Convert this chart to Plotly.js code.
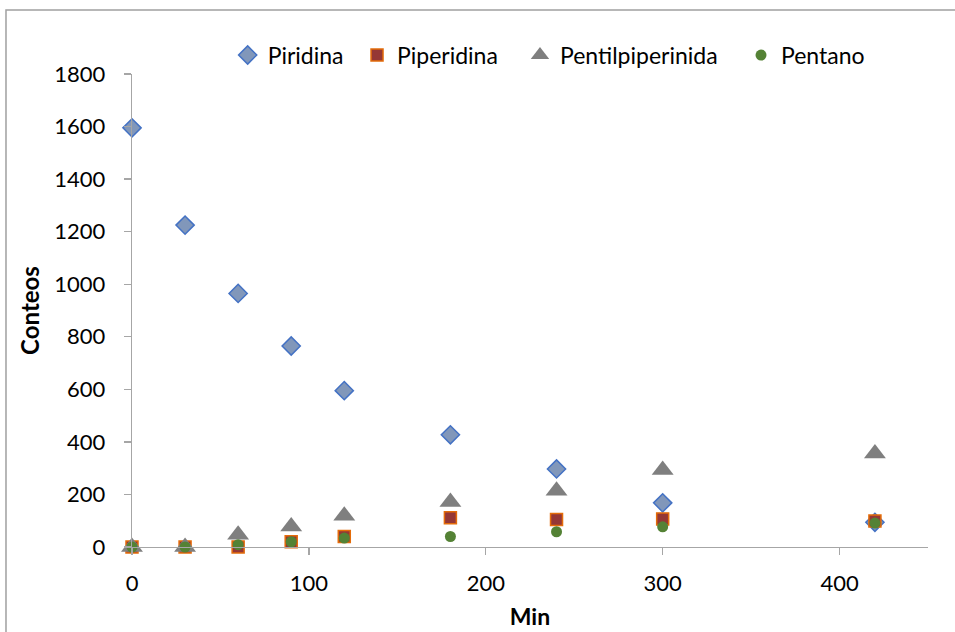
<!DOCTYPE html>
<html>
<head>
<meta charset="utf-8">
<script src="https://cdn.plot.ly/plotly-3.0.1.min.js"></script>
<style>html,body{margin:0;padding:0;background:#fff;}#chart{width:955px;height:632px;}</style>
</head>
<body>
<div id="chart"></div>
<script>
const minutes = [0, 30, 60, 90, 120, 180, 240, 300, 420];
const piridina = [1595, 1225, 965, 765, 595, 427, 297, 168, 94];
const piperidina = [0, 0, 0, 20, 40, 111, 105, 107, 99];
const pentilpiperinida = [0, 0, 47, 78, 119, 171, 214, 293, 356];
const pentano = [0, 0, 9, 20, 34, 40, 58, 77, 91];
const seriesNames = ['Piridina', 'Piperidina', 'Pentilpiperinida', 'Pentano'];
const xTicks = [0, 100, 200, 300, 400];
const yTicks = [0, 200, 400, 600, 800, 1000, 1200, 1400, 1600, 1800];

const font = 'Lato, "Open Sans", sans-serif';
const axisColor = '#A6A6A6';

const traces = [
  {x: minutes, y: piridina, name: seriesNames[0], type: 'scatter', mode: 'markers', legend: 'legend', cliponaxis: false,
   marker: {symbol: 'diamond', size: 14, color: '#8197BA', line: {color: '#4472C4', width: 1.5}}},
  {x: minutes, y: piperidina, name: seriesNames[1], type: 'scatter', mode: 'markers', legend: 'legend2', cliponaxis: false,
   marker: {symbol: 'square', size: 12, color: '#953735', line: {color: '#E46C0A', width: 1.5}}},
  {x: minutes, y: pentilpiperinida, name: seriesNames[2], type: 'scatter', mode: 'markers', legend: 'legend3', cliponaxis: false,
   marker: {symbol: 'triangle-up', size: 19, color: '#7F7F7F', line: {width: 0}}},
  {x: minutes, y: pentano, name: seriesNames[3], type: 'scatter', mode: 'markers', legend: 'legend4', cliponaxis: false,
   marker: {symbol: 'circle', size: 11, color: '#548235', line: {width: 0}}}
];

function leg(x) {
  return {orientation: 'h', x: x, y: 1.04, xanchor: 'left', yanchor: 'middle',
          font: {family: font, size: 23, color: '#000'}, bgcolor: 'rgba(0,0,0,0)', borderwidth: 0};
}

const layout = {
  width: 955, height: 632,
  margin: {l: 132, r: 27, t: 74, b: 85, pad: 0},
  paper_bgcolor: '#ffffff', plot_bgcolor: '#ffffff',
  font: {family: font, size: 22, color: '#000000'},
  showlegend: true,
  legend: leg(0.1202),
  legend2: leg(0.2827),
  legend3: leg(0.4874),
  legend4: leg(0.7651),
  xaxis: {range: [0, 450], tickvals: xTicks, ticktext: xTicks.map(String),
          showgrid: false, zeroline: false, showline: true, linecolor: axisColor, linewidth: 1.3,
          ticks: 'outside', ticklen: 7, tickcolor: axisColor, tickwidth: 1.3,
          tickfont: {family: font, size: 22}, ticklabelstandoff: 9,
          title: {text: '<b>Min</b>', font: {family: font, size: 23}, standoff: 14}},
  yaxis: {range: [0, 1800], tickvals: yTicks, ticktext: yTicks.map(String),
          showgrid: false, zeroline: false, showline: true, linecolor: axisColor, linewidth: 1.3,
          ticks: 'outside', ticklen: 7, tickcolor: axisColor, tickwidth: 1.3,
          tickfont: {family: font, size: 22}, ticklabelstandoff: 14,
          title: {text: '<b>Conteos</b>', font: {family: font, size: 24}, standoff: 8}},
  shapes: [{type: 'rect', xref: 'paper', yref: 'paper',
            x0: -0.1583, x1: 1.05, y0: -0.2, y1: 1.1353,
            line: {color: '#A0A0A0', width: 1.5}, fillcolor: 'rgba(0,0,0,0)', layer: 'below'}]
};

Plotly.newPlot('chart', traces, layout, {displayModeBar: false, staticPlot: true});
</script>
</body>
</html>
